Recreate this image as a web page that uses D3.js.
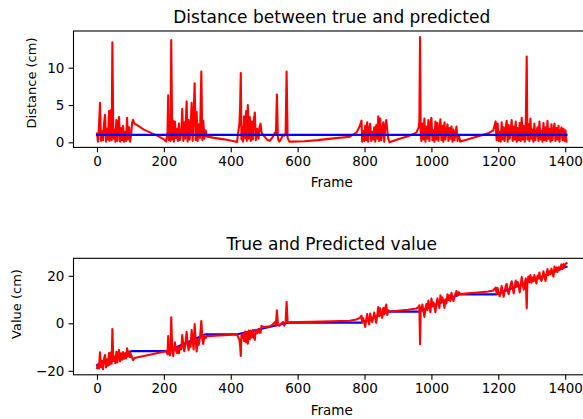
<!DOCTYPE html>
<html>
<head>
<meta charset="utf-8">
<script src="https://cdn.jsdelivr.net/npm/d3@7"></script>
<style>
body { margin: 0; background: #fff; }
svg { display: block; font-family: "DejaVu Sans", sans-serif; }
</style>
</head>
<body>
<script>
var w = 583;
var h = 419;

// tick labels
var frameTicks = [0, 200, 400, 600, 800, 1000, 1200, 1400];
var distTicks = [0, 5, 10];
var valueTicks = [-20, 0, 20];

// top plot: threshold line and distance |pred - true| (cm), [frame, value]
var threshold = [[0, 1], [1404, 1]];
var distance = [
  [0,1.2],[3,0.1],[6,2.0],[9,5.3],[12,0.2],[15,1.5],[18,0.3],[21,2.4],[24,3.7],[27,0.1],
  [30,1.8],[33,0.4],[36,4.2],[38,0.2],[41,4.3],[44,0.3],[46,13.4],[49,0.5],[52,1.7],[55,0.1],
  [58,3.0],[61,0.2],[64,2.6],[66,3.4],[69,0.1],[72,1.9],[75,0.3],[78,2.2],[81,0.1],[84,1.4],
  [87,0.2],[90,3.3],[93,0.4],[96,2.0],[99,0.1],[102,1.0],[105,2.6],[108,3.0],[112,2.5],
  [120,2.3],[140,1.7],[160,1.3],[180,0.9],[200,0.4],[207,0.1],
  [211,1.5],[213,6.3],[215,0.3],[218,2.1],[220,0.2],[222,13.7],[225,0.4],[228,2.9],[230,0.1],
  [233,2.8],[236,0.6],[239,1.8],[242,0.2],[245,2.5],[248,0.3],[252,1.1],[255,4.5],[258,0.2],
  [261,2.7],[264,0.5],[268,5.5],[271,0.1],[274,3.0],[277,0.4],[280,1.9],[283,5.3],[286,0.2],
  [289,3.5],[292,7.9],[295,0.3],[298,4.1],[301,0.2],[304,2.4],[308,0.6],[312,9.5],[315,0.3],
  [318,2.9],[321,0.5],[325,1.6],[328,0.8],
  [350,0.6],[380,0.4],[410,0.15],[419,0.05],
  [422,1.2],[426,2.5],[428,4.8],[430,9.3],[432,0.4],[435,2.0],[437,0.1],[440,3.5],[443,0.6],
  [446,4.2],[448,0.2],[451,5.0],[454,0.5],[457,3.4],[460,0.2],[463,2.8],[466,0.4],[469,3.0],
  [472,4.0],[475,0.3],[479,1.8],[483,0.5],[486,2.0],[489,2.5],[492,1.3],[500,0.8],[510,0.3],
  [517,0.2],[525,0.7],[532,1.3],[535,1.0],[538,6.4],[541,0.5],[545,0.1],[550,0.4],[556,1.0],
  [560,0.9],[564,1.2],[567,9.5],[570,0.6],[575,0.1],
  [580,0.1],[620,0.15],[660,0.3],[700,0.5],[756,0.75],[776,1.3],[786,2.2],[791,2.9],
  [793,0.1],[796,1.5],[799,0.2],[802,2.2],[805,0.3],[808,2.7],[811,0.1],[814,1.8],[817,2.5],
  [820,0.2],[823,1.4],[826,0.4],[829,2.0],[832,0.1],[835,2.3],[838,0.5],[841,3.5],[844,0.2],
  [847,3.2],[850,0.3],[853,1.2],[856,2.7],[859,0.1],[862,2.2],[865,3.0],[868,1.6],[871,0.5],
  [875,0.0],[900,0.4],[930,0.8],[955,1.3],[962,2.0],
  [964,2.8],[966,14.1],[968,1.5],[970,0.2],[973,2.5],[976,0.4],[979,3.2],[982,0.1],[985,2.1],
  [988,0.5],[991,3.0],[994,0.2],[997,2.4],[1000,3.3],[1003,0.3],[1006,1.6],[1009,0.1],[1012,2.8],
  [1015,0.4],[1018,2.6],[1021,0.2],[1024,1.8],[1027,3.1],[1030,0.3],[1033,2.2],[1036,0.1],
  [1039,2.7],[1042,0.4],[1045,1.5],[1048,2.4],[1051,0.2],[1054,1.9],[1057,0.5],[1060,2.1],
  [1063,0.1],[1066,1.7],[1069,0.3],[1072,1.2],[1075,2.1],[1078,0.2],[1082,1.0],
  [1086,0.1],[1110,0.4],[1140,0.8],[1170,1.2],[1185,1.6],[1192,2.8],
  [1195,0.3],[1198,2.5],[1201,0.2],[1204,1.4],[1207,0.1],[1210,2.7],[1213,0.4],[1216,2.0],
  [1219,0.2],[1222,1.8],[1225,2.9],[1228,0.1],[1231,2.3],[1234,0.5],[1237,1.6],[1240,3.0],
  [1243,0.2],[1246,2.1],[1249,0.4],[1252,2.8],[1255,0.1],[1258,1.9],[1261,0.3],[1264,2.6],
  [1267,0.2],[1270,3.3],[1273,0.4],[1276,2.2],[1279,0.1],[1282,2.0],[1285,11.5],[1287,0.4],
  [1290,2.4],[1293,0.2],[1296,3.2],[1299,0.5],[1302,1.7],[1305,0.1],[1308,2.5],[1311,0.3],
  [1314,1.3],[1317,2.0],[1320,0.2],[1323,2.8],[1326,0.4],[1329,1.5],[1332,0.1],[1335,2.6],
  [1338,0.3],[1341,2.0],[1344,0.2],[1347,2.9],[1350,0.5],[1353,1.8],[1356,0.1],[1359,2.4],
  [1362,0.3],[1365,1.6],[1368,2.5],[1371,0.2],[1374,1.9],[1377,0.4],[1380,2.2],[1383,0.1],
  [1386,1.5],[1389,2.0],[1392,0.3],[1395,1.8],[1398,0.2],[1401,1.6],[1404,0.1]
];

// bottom plot: true value and predicted value (cm), [frame, value]
var trueValue = [
  [0,-17.6],[105,-11.7],[210,-11.7],[325,-4.6],[420,-4.6],[575,0.3],
  [790,0.3],[870,4.9],[962,4.9],[1085,12.2],[1195,12.2],[1404,23.8]
];
var predValue = [
  [0,-18.8],[3,-17.2],[6,-19.0],[9,-12.2],[12,-18.5],[15,-15.8],[18,-19.3],[21,-15.0],[24,-13.4],
  [27,-18.6],[30,-15.2],[33,-17.8],[36,-12.5],[38,-17.4],[41,-12.3],[44,-17.0],[46,-2.4],[49,-15.8],
  [52,-14.0],[55,-16.8],[58,-12.0],[61,-16.5],[64,-12.3],[66,-11.2],[69,-16.0],[72,-12.6],[75,-15.3],
  [78,-12.1],[81,-15.0],[84,-12.6],[87,-14.8],[90,-10.5],[93,-14.0],[96,-11.8],[99,-14.2],[102,-13.0],
  [105,-14.5],[108,-15.5],[112,-14.6],[207,-11.8],
  [211,-13.0],[213,-5.4],[215,-11.9],[218,-13.5],[220,-11.3],[222,2.5],[225,-11.1],[228,-13.8],
  [230,-10.9],[233,-8.0],[236,-11.4],[239,-12.5],[242,-10.0],[245,-12.6],[248,-9.9],[252,-11.0],
  [255,-4.9],[258,-9.4],[261,-11.8],[264,-9.2],[268,-3.6],[271,-8.6],[274,-11.3],[277,-8.3],
  [280,-9.9],[283,-2.8],[286,-7.6],[289,-11.0],[292,-0.3],[295,-7.1],[298,-11.8],[301,-6.8],
  [304,-9.2],[308,-6.2],[312,1.0],[315,-6.5],[318,-8.7],[321,-5.2],[325,-6.2],[328,-5.4],
  [419,-4.7],
  [422,-5.8],[426,-7.0],[428,-9.2],[430,-13.7],[432,-4.9],[435,-6.1],[437,-4.3],[440,-7.5],
  [443,-3.5],[446,-8.0],[448,-3.6],[451,-8.6],[454,-3.1],[457,-6.7],[460,-3.1],[463,-6.0],
  [466,-2.8],[469,-6.0],[472,-7.0],[475,-2.7],[479,-4.2],[483,-2.4],[486,-4.0],[489,-4.0],
  [492,-1.1],[500,-1.6],[510,-1.4],[517,-1.3],[525,-0.5],[532,0.5],[535,-1.0],[538,5.5],
  [541,-0.5],[545,-1.0],[550,-0.3],[556,0.6],[560,-1.0],[564,0.5],[567,9.1],[570,0.4],[575,0.4],
  [640,0.6],[700,0.8],[756,1.1],[776,1.6],[786,2.3],[791,3.2],
  [793,0.2],[796,2.1],[799,0.5],[802,-1.5],[805,1.2],[808,3.9],[811,1.2],[814,-0.5],[817,4.1],
  [820,1.7],[823,0.5],[826,2.3],[829,4.5],[832,2.3],[835,0.2],[838,3.4],[841,6.8],[844,3.0],
  [847,6.3],[850,3.6],[853,2.3],[856,6.4],[859,3.8],[862,6.5],[865,7.9],[868,3.5],[871,5.5],
  [875,5.0],[900,5.3],[930,5.7],[955,6.2],[962,6.9],
  [964,7.6],[966,-8.8],[968,6.5],[970,5.3],[973,7.9],[976,5.3],[979,2.7],[982,6.1],[985,8.1],
  [988,5.6],[991,9.6],[994,6.8],[997,4.7],[1000,10.4],[1003,7.1],[1006,8.8],[1009,7.5],[1012,4.7],
  [1015,8.1],[1018,10.5],[1021,8.1],[1024,6.4],[1027,11.8],[1030,8.7],[1033,10.9],[1036,9.0],
  [1039,6.5],[1042,10.1],[1045,8.4],[1048,12.2],[1051,9.8],[1054,11.8],[1057,9.4],[1060,12.8],
  [1063,10.9],[1066,9.4],[1069,11.4],[1072,12.6],[1075,13.6],[1078,11.7],[1082,13.1],[1086,12.3],
  [1110,12.6],[1140,13.0],[1170,13.4],[1185,13.8],[1192,15.0],
  [1195,12.5],[1198,14.9],[1201,12.7],[1204,11.4],[1207,12.8],[1210,15.7],[1213,13.4],[1216,11.2],
  [1219,13.4],[1222,15.5],[1225,16.6],[1228,13.8],[1231,12.3],[1234,14.4],[1237,16.3],[1240,17.7],
  [1243,14.9],[1246,12.6],[1249,15.4],[1252,18.0],[1255,15.5],[1258,17.4],[1261,15.9],[1264,13.0],
  [1267,16.1],[1270,19.5],[1273,16.3],[1276,14.2],[1279,16.9],[1282,18.9],[1285,6.3],[1287,17.2],
  [1290,19.7],[1293,17.3],[1296,20.3],[1299,17.1],[1302,19.3],[1305,17.7],[1308,20.3],[1311,18.2],
  [1314,16.8],[1317,20.1],[1320,18.9],[1323,21.4],[1326,18.6],[1329,17.9],[1332,19.3],[1335,21.9],
  [1338,19.6],[1341,17.8],[1344,20.1],[1347,22.8],[1350,20.3],[1353,21.9],[1356,20.6],[1359,23.0],
  [1362,21.3],[1365,19.6],[1368,23.9],[1371,21.7],[1374,23.5],[1377,21.6],[1380,23.6],[1383,22.4],
  [1386,23.8],[1389,24.8],[1392,22.9],[1395,24.9],[1398,23.8],[1401,25.0],[1404,25.3]
];

var svg = d3.select('body').append('svg')
    .attr('width', w)
    .attr('height', h);

var x = d3.scaleLinear().domain([-70.2, 1474.2]).range([73.5, 590]);

var drawPanel = function(p){
  var y = d3.scaleLinear().domain(p.yDomain).range([p.bottom, p.top]);
  var g = svg.append('g');

  var line = d3.line()
      .x(function(d){ return x(d[0]); })
      .y(function(d){ return y(d[1]); });

  p.series.forEach(function(s){
    g.append('path')
        .datum(s.data)
        .attr('fill', 'none')
        .attr('stroke', s.color)
        .attr('stroke-width', 2.1)
        .attr('stroke-linejoin', 'round')
        .attr('stroke-linecap', 'square')
        .attr('d', line);
  });

  // spines (right one falls outside the picture)
  g.append('rect')
      .attr('x', 73.5).attr('y', p.top)
      .attr('width', 590 - 73.5).attr('height', p.bottom - p.top)
      .attr('fill', 'none').attr('stroke', '#000').attr('stroke-width', 1.1);

  var xAxis = g.append('g')
      .attr('transform', 'translate(0,' + p.bottom + ')')
      .call(d3.axisBottom(x).tickValues(frameTicks).tickSize(4.9).tickPadding(4.2).tickSizeOuter(0)
        .tickFormat(d3.format('d')));
  var yAxis = g.append('g')
      .attr('transform', 'translate(73.5,0)')
      .call(d3.axisLeft(y).tickValues(p.ticks).tickSize(4.9).tickPadding(4.2).tickSizeOuter(0)
        .tickFormat(function(d){ return d < 0 ? '\u2212' + Math.abs(d) : d; }));
  [xAxis, yAxis].forEach(function(a){
    a.select('.domain').remove();
    a.selectAll('.tick line').attr('stroke', '#000').attr('stroke-width', 1.1);
    a.selectAll('.tick text').attr('fill', '#000')
        .style('font-size', '13.5px').style('font-family', '"DejaVu Sans", sans-serif');
  });

  g.append('text')
      .attr('x', (73.5 + 590) / 2).attr('y', p.top - 8)
      .attr('text-anchor', 'middle')
      .style('font-size', '17px')
      .text(p.title);

  g.append('text')
      .attr('x', 331.8).attr('y', p.bottom + 40)
      .attr('text-anchor', 'middle')
      .style('font-size', '13.5px')
      .text('Frame');

  g.append('text')
      .attr('transform', 'translate(' + p.ylabelX + ',' + p.ylabelY + ') rotate(-90)')
      .attr('text-anchor', 'middle')
      .style('font-size', '13px')
      .text(p.ylabel);
};

drawPanel({
  top: 31, bottom: 147.4, yDomain: [-0.68, 14.92], ticks: distTicks,
  title: 'Distance between true and predicted', ylabel: 'Distance (cm)', ylabelX: 36, ylabelY: 83,
  series: [{data: distance, color: 'red'}, {data: threshold, color: 'blue'}]
});

drawPanel({
  top: 258.3, bottom: 374.8, yDomain: [-21.68, 27.37], ticks: valueTicks,
  title: 'True and Predicted value', ylabel: 'Value (cm)', ylabelX: 21, ylabelY: 304,
  series: [{data: trueValue, color: 'blue'}, {data: predValue, color: 'red'}]
});
</script>
</body>
</html>
